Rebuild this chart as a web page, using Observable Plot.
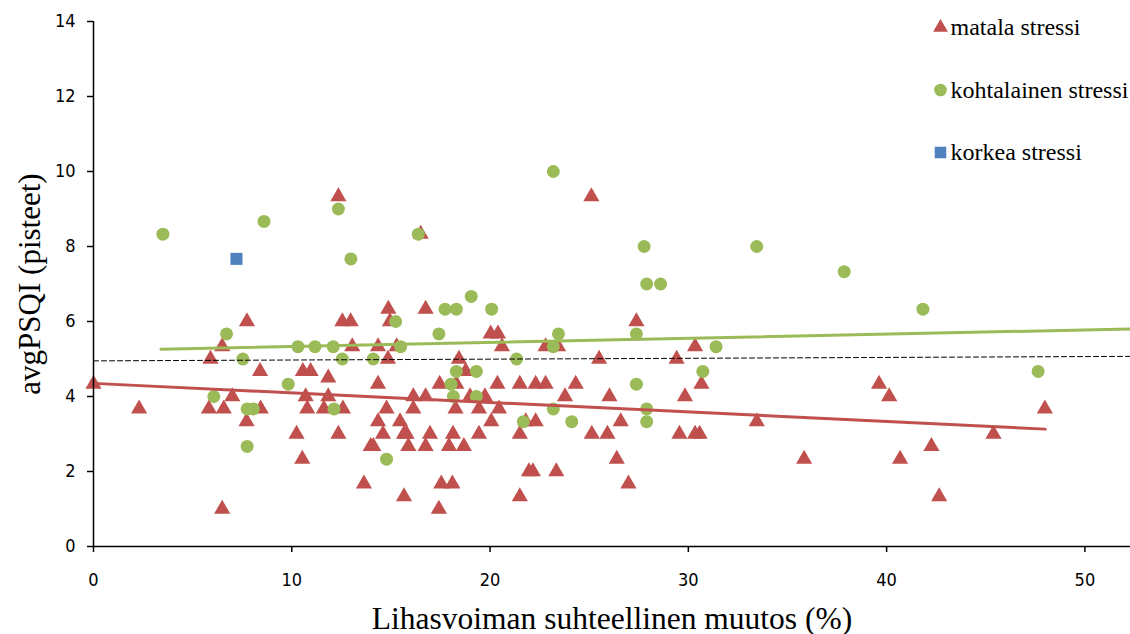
<!DOCTYPE html>
<html>
<head>
<meta charset="utf-8">
<script src="https://cdn.jsdelivr.net/npm/d3@7"></script>
<script src="https://cdn.jsdelivr.net/npm/@observablehq/plot@0.6"></script>
<style>
  html, body { margin: 0; padding: 0; background: #fff; }
  #chart svg { overflow: visible; display: block; }
</style>
</head>
<body>
<div id="chart"></div>
<script>
// ---- data ----
const xTicks = [0, 10, 20, 30, 40, 50];
const yTicks = [0, 2, 4, 6, 8, 10, 12, 14];
const legendLabels = ["matala stressi", "kohtalainen stressi", "korkea stressi"];
const xTitle = "Lihasvoiman suhteellinen muutos (%)";
const yTitle = "avgPSQI (pisteet)";

// matala stressi (low stress)
const lowStress = [
  [0, 4.33], [2.3, 3.67], [5.9, 5], [5.82, 3.67], [6.57, 3.67], [7.0, 4], [6.49, 5.33],
  [8.4, 4.67], [8.43, 3.67], [7.72, 3.33], [6.49, 1], [7.74, 6], [12.35, 9.33], [16.5, 8.33],
  [12.55, 6], [12.97, 6], [14.87, 6.33], [16.75, 6.33], [14.95, 6], [13.05, 5.33], [14.35, 5.33],
  [15.29, 5.33], [14.85, 5], [18.43, 5], [10.56, 4.67], [10.95, 4.67], [18.77, 4.67], [11.84, 4.5],
  [14.35, 4.33], [17.46, 4.33], [18.3, 4.33], [10.7, 4], [11.84, 4], [16.13, 4], [16.75, 4],
  [18.99, 4], [10.78, 3.67], [11.62, 3.67], [12.58, 3.67], [14.78, 3.67], [16.13, 3.67], [18.26, 3.67],
  [14.35, 3.33], [15.46, 3.33], [10.24, 3], [12.35, 3], [14.6, 3], [15.66, 3], [15.79, 3],
  [16.97, 3], [18.13, 3], [13.98, 2.67], [14.11, 2.67], [15.88, 2.67], [16.75, 2.67], [17.93, 2.67],
  [18.68, 2.67], [10.53, 2.33], [13.64, 1.67], [17.54, 1.67], [18.1, 1.67], [15.66, 1.33], [17.42, 1],
  [25.11, 9.33], [20.03, 5.67], [20.4, 5.67], [27.38, 6], [20.6, 5.33], [22.8, 5.33], [23.43, 5.33],
  [25.5, 5], [20.37, 4.33], [21.5, 4.33], [22.3, 4.33], [22.8, 4.33], [24.32, 4.33], [19.74, 4],
  [23.78, 4], [26.02, 4], [19.44, 3.67], [20.45, 3.67], [20.06, 3.33], [21.8, 3.33], [22.3, 3.33],
  [26.59, 3.33], [19.44, 3], [21.5, 3], [25.13, 3], [25.92, 3], [26.39, 2.33], [21.96, 2],
  [22.16, 2], [23.34, 2], [26.98, 1.67], [21.5, 1.33], [30.34, 5.33], [29.41, 5], [30.66, 4.33],
  [29.83, 4], [33.45, 3.33], [29.55, 3], [30.34, 3], [30.57, 3], [35.84, 2.33], [39.62, 4.33],
  [40.13, 4], [40.68, 2.33], [47.98, 3.67], [45.39, 3], [42.26, 2.67], [42.65, 1.33]
];

// kohtalainen stressi (moderate stress)
const modStress = [
  [3.5, 8.33], [8.6, 8.67], [6.71, 5.67], [6.07, 4], [7.53, 5], [7.75, 3.67], [8.06, 3.67],
  [7.75, 2.67], [12.35, 9], [16.38, 8.33], [12.98, 7.67], [15.24, 6], [17.73, 6.33], [18.3, 6.33],
  [19.05, 6.67], [17.42, 5.67], [10.31, 5.33], [11.17, 5.33], [12.09, 5.33], [15.49, 5.33],
  [12.55, 5], [14.11, 5], [18.3, 4.67], [9.82, 4.33], [18.03, 4.33], [18.15, 4], [12.13, 3.67],
  [14.78, 2.33], [23.19, 10], [27.77, 8], [27.9, 7], [28.6, 7], [20.08, 6.33], [23.45, 5.67],
  [27.38, 5.67], [23.19, 5.33], [21.34, 5], [19.31, 4.67], [27.38, 4.33], [19.31, 4],
  [23.19, 3.67], [27.9, 3.67], [21.68, 3.33], [24.12, 3.33], [27.9, 3.33], [33.45, 8],
  [37.86, 7.33], [31.4, 5.33], [30.73, 4.67], [41.83, 6.33], [47.64, 4.67]
];

// korkea stressi (high stress)
const highStress = [[7.21, 7.67]];

// trend lines (end points)
const lowTrend = [[0, 4.35], [48.0, 3.13]];
const modTrend = [[3.4, 5.26], [52.3, 5.80]];
const refLine = [[0, 4.95], [52.3, 5.07]];

// ---- chart ----
const RED = "#C0504D", GREEN = "#9BBB59", BLUE = "#4F81BD";
const tickFont = "'Liberation Sans Narrow', 'DejaVu Sans Condensed', 'Liberation Sans', sans-serif";
const serif = "'Liberation Serif', 'DejaVu Serif', serif";
const px = d => d[0], py = d => d[1];

const legendSymbols = ["triangle", "circle", "square"];
const legendColors = [RED, GREEN, BLUE];
const legendR = [5.5, 6.3, 6.5];

const legendMarks = legendLabels.flatMap((lab, i) => [
  Plot.dot([lab], {frameAnchor: "top-left", dx: 847, dy: 6 + i * 62.5,
    symbol: legendSymbols[i], r: legendR[i], fill: legendColors[i], stroke: "none"}),
  Plot.text([lab], {frameAnchor: "top-left", dx: 857, dy: 6 + i * 62.5,
    text: d => d, textAnchor: "start", lineAnchor: "middle",
    fontFamily: serif, fontSize: 24, fill: "black"})
]);

const chart = Plot.plot({
  width: 1130,
  height: 634,
  marginLeft: 93,
  marginRight: 0,
  marginTop: 21,
  marginBottom: 88,
  x: {domain: [0, 52.3]},
  y: {domain: [0, 14]},
  style: {fontFamily: tickFont, background: "white", color: "black", overflow: "visible"},
  marks: [
    Plot.axisX({ticks: xTicks, tickSize: 6, tickPadding: 21, fontSize: 18, label: null,
      tickFormat: d => String(d), strokeWidth: 1.5}),
    Plot.axisY({ticks: yTicks, tickSize: 6, tickPadding: 12, fontSize: 18, label: null,
      tickFormat: d => String(d), strokeWidth: 1.5}),
    Plot.dot(lowStress, {x: px, y: py, symbol: "triangle", r: 6, fill: RED, stroke: "none"}),
    Plot.dot(modStress, {x: px, y: py, symbol: "circle", r: 6.5, fill: GREEN, stroke: "none"}),
    Plot.dot(highStress, {x: px, y: py, symbol: "square", r: 6.8, fill: BLUE, stroke: "none"}),
    Plot.line(refLine, {x: px, y: py, stroke: "black", strokeWidth: 1, strokeDasharray: "5,3"}),
    Plot.line(lowTrend, {x: px, y: py, stroke: RED, strokeWidth: 3}),
    Plot.line(modTrend, {x: px, y: py, stroke: GREEN, strokeWidth: 3}),
    Plot.ruleX([0], {stroke: "black", strokeWidth: 1.5}),
    Plot.ruleY([0], {stroke: "black", strokeWidth: 1.5}),
    Plot.text([yTitle], {frameAnchor: "left", dx: -63, rotate: -90, text: d => d,
      textAnchor: "middle", lineAnchor: "middle",
      fontFamily: serif, fontSize: 31, fill: "black"}),
    Plot.text([xTitle], {frameAnchor: "bottom", dy: 72, text: d => d,
      textAnchor: "middle", lineAnchor: "middle",
      fontFamily: serif, fontSize: 31.5, fill: "black"}),
    ...legendMarks
  ]
});
document.getElementById("chart").appendChild(chart);
</script>
</body>
</html>
